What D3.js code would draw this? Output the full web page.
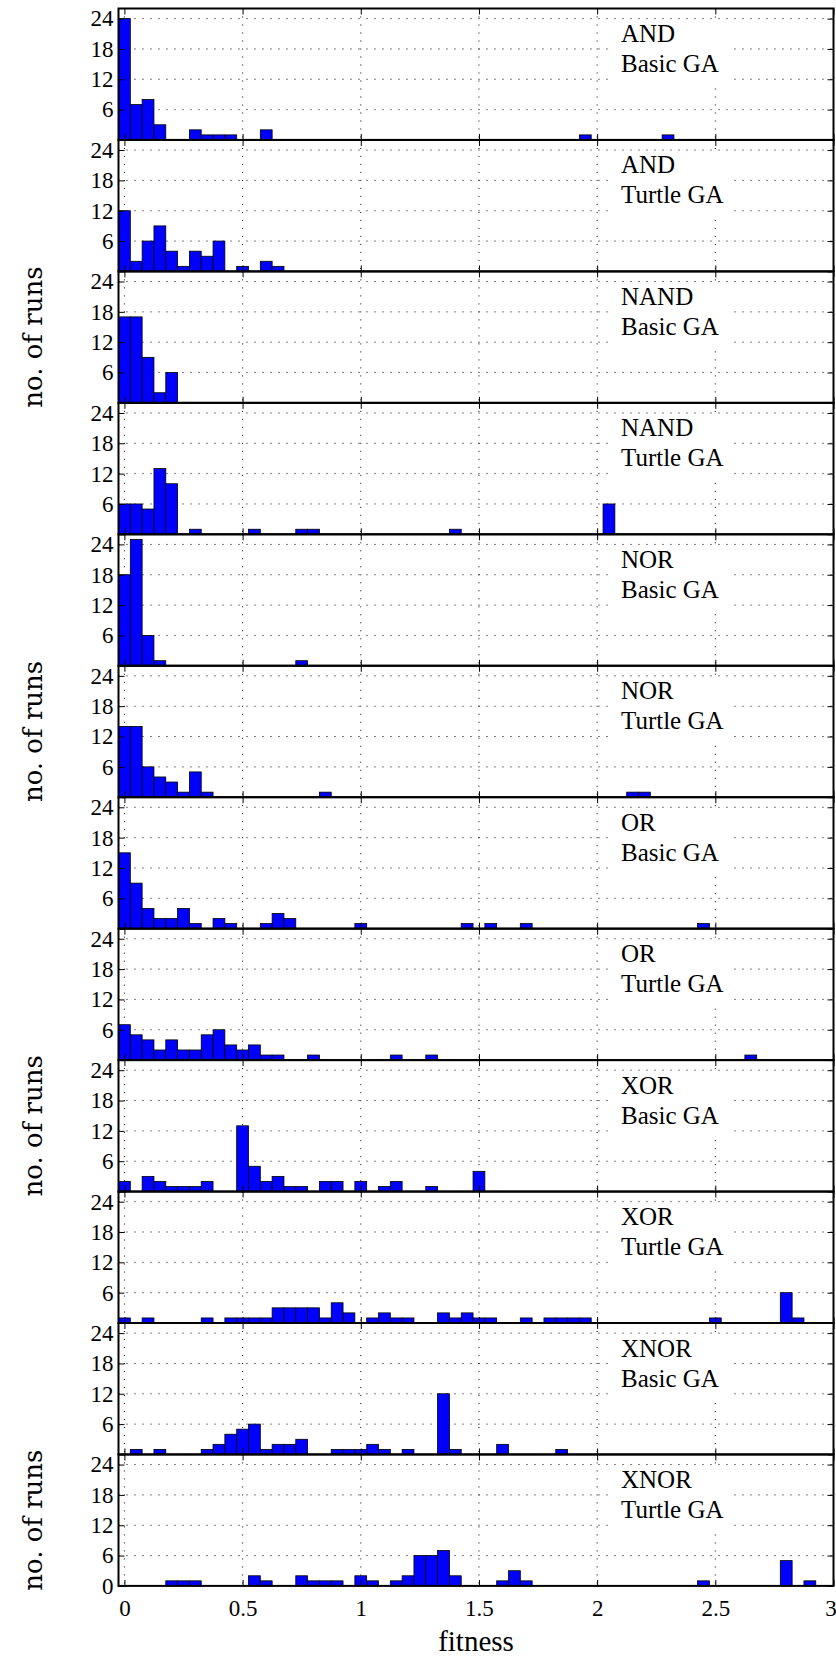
<!DOCTYPE html>
<html>
<head>
<meta charset="utf-8">
<script src="https://cdn.jsdelivr.net/npm/d3@7/dist/d3.min.js"></script>
<style>
  body { margin: 0; background: #fff; }
  svg { display: block; }
  .tick text { font-family: "Liberation Serif", "Times New Roman", serif; font-size: 23px; fill: #000; }
  .tick line { stroke: #000; stroke-width: 1; }
  .grid line { stroke: #000; stroke-width: 1; stroke-dasharray: 1,7; }
  .bar { fill: #0000ff; stroke: #000; stroke-width: 0.8; }
  .panel_text { font-family: "Liberation Serif", "Times New Roman", serif; font-size: 25px; fill: #000; }
  .y_label { font-family: "DejaVu Serif", serif; font-size: 26px; fill: #000; }
  .x_label { font-family: "Liberation Serif", "Times New Roman", serif; font-size: 29px; fill: #000; }
</style>
</head>
<body>
<div id="chart"></div>
<script>
// --------------------------------------------------------------------------------------
// data - [bin centre (fitness), no. of runs], bin width 0.05
// --------------------------------------------------------------------------------------
var gates      = ["AND", "AND", "NAND", "NAND", "NOR", "NOR", "OR", "OR", "XOR", "XOR", "XNOR", "XNOR"];
var algorithms = ["Basic GA", "Turtle GA", "Basic GA", "Turtle GA", "Basic GA", "Turtle GA",
                  "Basic GA", "Turtle GA", "Basic GA", "Turtle GA", "Basic GA", "Turtle GA"];

var and_basic   = [[0, 24], [0.05, 7], [0.1, 8], [0.15, 3], [0.3, 2], [0.35, 1], [0.4, 1], [0.45, 1],
                   [0.6, 2], [1.95, 1], [2.3, 1]];
var and_turtle  = [[0, 12], [0.05, 2], [0.1, 6], [0.15, 9], [0.2, 4], [0.25, 1], [0.3, 4], [0.35, 3],
                   [0.4, 6], [0.5, 1], [0.6, 2], [0.65, 1]];
var nand_basic  = [[0, 17], [0.05, 17], [0.1, 9], [0.15, 2], [0.2, 6]];
var nand_turtle = [[0, 6], [0.05, 6], [0.1, 5], [0.15, 13], [0.2, 10], [0.3, 1], [0.55, 1], [0.75, 1],
                   [0.8, 1], [1.4, 1], [2.05, 6]];
var nor_basic   = [[0, 18], [0.05, 25], [0.1, 6], [0.15, 1], [0.75, 1]];
var nor_turtle  = [[0, 14], [0.05, 14], [0.1, 6], [0.15, 4], [0.2, 3], [0.25, 1], [0.3, 5], [0.35, 1],
                   [0.85, 1], [2.15, 1], [2.2, 1]];
var or_basic    = [[0, 15], [0.05, 9], [0.1, 4], [0.15, 2], [0.2, 2], [0.25, 4], [0.3, 1], [0.4, 2],
                   [0.45, 1], [0.6, 1], [0.65, 3], [0.7, 2], [1.0, 1], [1.45, 1], [1.55, 1], [1.7, 1],
                   [2.45, 1]];
var or_turtle   = [[0, 7], [0.05, 5], [0.1, 4], [0.15, 2], [0.2, 4], [0.25, 2], [0.3, 2], [0.35, 5],
                   [0.4, 6], [0.45, 3], [0.5, 2], [0.55, 3], [0.6, 1], [0.65, 1], [0.8, 1], [1.15, 1],
                   [1.3, 1], [2.65, 1]];
var xor_basic   = [[0, 2], [0.1, 3], [0.15, 2], [0.2, 1], [0.25, 1], [0.3, 1], [0.35, 2], [0.5, 13],
                   [0.55, 5], [0.6, 2], [0.65, 3], [0.7, 1], [0.75, 1], [0.85, 2], [0.9, 2], [1.0, 2],
                   [1.1, 1], [1.15, 2], [1.3, 1], [1.5, 4]];
var xor_turtle  = [[0, 1], [0.1, 1], [0.35, 1], [0.45, 1], [0.5, 1], [0.55, 1], [0.6, 1], [0.65, 3],
                   [0.7, 3], [0.75, 3], [0.8, 3], [0.85, 1], [0.9, 4], [0.95, 2], [1.05, 1], [1.1, 2],
                   [1.15, 1], [1.2, 1], [1.35, 2], [1.4, 1], [1.45, 2], [1.5, 1], [1.55, 1], [1.7, 1],
                   [1.8, 1], [1.85, 1], [1.9, 1], [1.95, 1], [2.5, 1], [2.8, 6], [2.85, 1]];
var xnor_basic  = [[0.05, 1], [0.15, 1], [0.35, 1], [0.4, 2], [0.45, 4], [0.5, 5], [0.55, 6], [0.6, 1],
                   [0.65, 2], [0.7, 2], [0.75, 3], [0.9, 1], [0.95, 1], [1.0, 1], [1.05, 2], [1.1, 1],
                   [1.2, 1], [1.35, 12], [1.4, 1], [1.6, 2], [1.85, 1]];
var xnor_turtle = [[0.2, 1], [0.25, 1], [0.3, 1], [0.55, 2], [0.6, 1], [0.75, 2], [0.8, 1], [0.85, 1],
                   [0.9, 1], [1.0, 2], [1.05, 1], [1.15, 1], [1.2, 2], [1.25, 6], [1.3, 6], [1.35, 7],
                   [1.4, 2], [1.6, 1], [1.65, 3], [1.7, 1], [2.45, 1], [2.8, 5], [2.9, 1]];

var series = [and_basic, and_turtle, nand_basic, nand_turtle, nor_basic, nor_turtle,
              or_basic, or_turtle, xor_basic, xor_turtle, xnor_basic, xnor_turtle];

var bin_width     = 0.05;
var x_ticks       = [0, 0.5, 1, 1.5, 2, 2.5, 3];
var x_tick_labels = ["0", "0.5", "1", "1.5", "2", "2.5", "3"];
var y_ticks       = [0, 6, 12, 18, 24];
var y_tick_labels = ["0", "6", "12", "18", "24"];
var x_grid        = [0, 0.5, 1, 1.5, 2, 2.5];
var y_grid        = [6, 12, 18, 24];

// --------------------------------------------------------------------------------------
// layout
// --------------------------------------------------------------------------------------
var width = 836, height = 1658;
var left = 118.5, right = 833.5;
var top0 = 8.5, panel_h = 131.45;

var svg = d3.select("#chart").append("svg")
    .attr("width", width)
    .attr("height", height);

svg.append("rect").attr("width", width).attr("height", height).attr("fill", "#fff");

var x = d3.scaleLinear().domain([-0.025, 3]).range([left, right]);
var y = d3.scaleLinear().domain([0, 26]).range([panel_h, 0]);

// --------------------------------------------------------------------------------------
// draw one histogram panel
// --------------------------------------------------------------------------------------
function draw_panel(i)
{
  var last = (i == series.length - 1);
  var g = svg.append("g")
      .attr("transform", "translate(0," + (top0 + i * panel_h) + ")");

  // dotted grid
  var grid = g.append("g").attr("class", "grid");
  grid.selectAll(".gx").data(x_grid).enter().append("line")
      .attr("x1", function(d) { return x(d); }).attr("x2", function(d) { return x(d); })
      .attr("y1", 0).attr("y2", panel_h);
  grid.selectAll(".gy").data(y_grid).enter().append("line")
      .attr("x1", left).attr("x2", right)
      .attr("y1", function(d) { return y(d); }).attr("y2", function(d) { return y(d); });

  // label box
  g.append("rect")
      .attr("x", 613).attr("y", 14)
      .attr("width", 120).attr("height", 62)
      .attr("fill", "#fff");

  g.append("text").attr("class", "panel_text")
      .attr("x", 621).attr("y", 33.5).text(gates[i]);
  g.append("text").attr("class", "panel_text")
      .attr("x", 621).attr("y", 63.5).text(algorithms[i]);

  // bars
  g.selectAll(".bar")
      .data(series[i])
      .enter().append("rect")
      .attr("class", "bar")
      .attr("x", function(d) { return x(d[0] - bin_width / 2); })
      .attr("width", function(d) { return x(d[0] + bin_width / 2) - x(d[0] - bin_width / 2); })
      .attr("y", function(d) { return y(d[1]); })
      .attr("height", function(d) { return y(0) - y(d[1]); });

  // axes - ticks inside on all four sides
  var bottom_axis = g.append("g")
      .attr("transform", "translate(0," + panel_h + ")")
      .call(d3.axisBottom(x).tickValues(x_ticks).tickSizeInner(-6).tickSizeOuter(0).tickPadding(14)
        .tickFormat(function(d, k) { return last ? x_tick_labels[k] : ""; }))
      .call(function(a) { a.select(".domain").remove(); });

  // keep the last label ("3") inside the page
  bottom_axis.selectAll(".tick text")
      .filter(function(d) { return d == 3; })
      .attr("dx", -3);

  g.append("g")
      .call(d3.axisTop(x).tickValues(x_ticks).tickSizeInner(-6).tickSizeOuter(0).tickFormat(""))
      .call(function(a) { a.select(".domain").remove(); });

  g.append("g")
      .attr("transform", "translate(" + left + ",0)")
      .call(d3.axisLeft(y).tickValues(y_ticks).tickSizeInner(-6).tickSizeOuter(0).tickPadding(5)
        .tickFormat(function(d, k) { return (d == 0 && !last) ? "" : y_tick_labels[k]; }))
      .call(function(a) { a.select(".domain").remove(); });

  g.append("g")
      .attr("transform", "translate(" + right + ",0)")
      .call(d3.axisRight(y).tickValues(y_ticks).tickSizeInner(-6).tickSizeOuter(0).tickFormat(""))
      .call(function(a) { a.select(".domain").remove(); });

  // box
  g.append("rect")
      .attr("x", left).attr("y", 0)
      .attr("width", right - left).attr("height", panel_h)
      .attr("fill", "none").attr("stroke", "#000").attr("stroke-width", 2);

  // y label every third panel
  if (i % 3 == 2) {
    g.append("text").attr("class", "y_label")
        .attr("text-anchor", "middle")
        .attr("transform", "translate(42," + (panel_h / 2) + ") rotate(-90)")
        .text("no. of runs");
  }
}

for (var i = 0; i < series.length; i++) {
  draw_panel(i);
}

svg.append("text").attr("class", "x_label")
    .attr("text-anchor", "middle")
    .attr("x", (left + right) / 2)
    .attr("y", 1651)
    .text("fitness");
</script>
</body>
</html>
